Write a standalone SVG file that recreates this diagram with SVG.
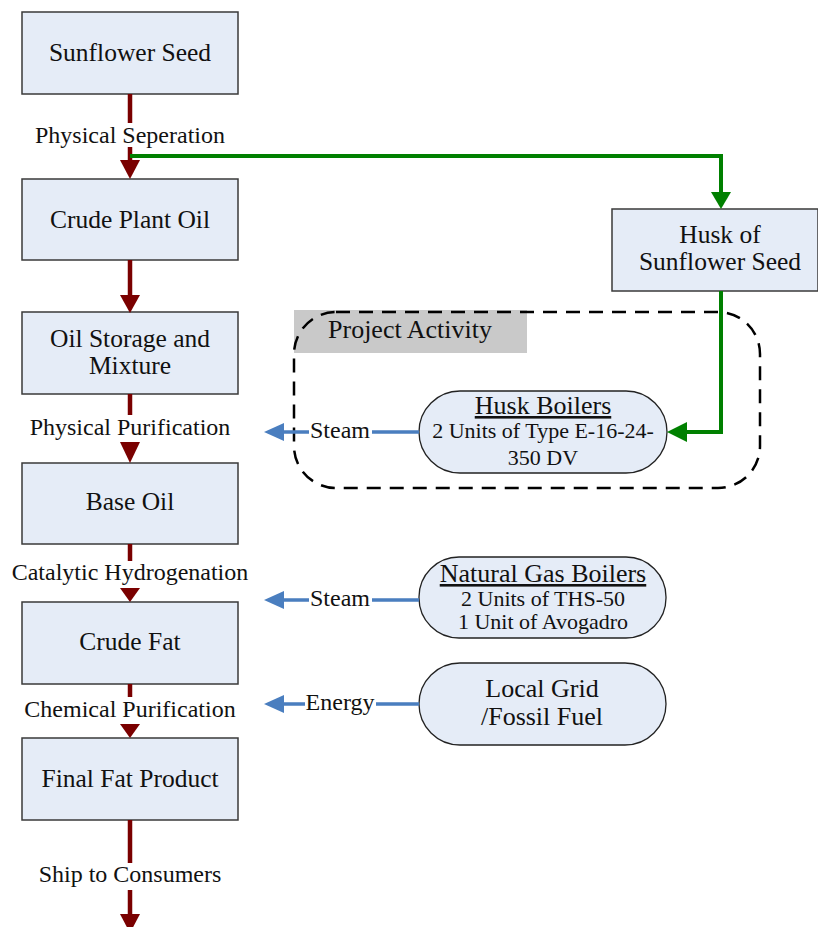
<svg xmlns="http://www.w3.org/2000/svg" width="818" height="927" viewBox="0 0 818 927">
<style>
.box{fill:#e5ecf7;stroke:#3a3a3a;stroke-width:1.5}
.pill{fill:#e5ecf7;stroke:#222;stroke-width:1.3}
.t{font-family:"Liberation Serif","Times New Roman",serif;fill:#111;text-anchor:middle}
.bt{font-size:25.5px}
.lb{font-size:24px}
.pt{font-size:26px;text-decoration:underline}
.pb{font-size:22px}
.red{stroke:#7a0000;stroke-width:4.5;fill:none}
.redh{fill:#7a0000}
.grn{stroke:#008000;stroke-width:4;fill:none}
.grnh{fill:#008000}
.blu{stroke:#4a7ebf;stroke-width:3.5;fill:none}
.bluh{fill:#4a7ebf}
</style>
<rect width="818" height="927" fill="#fff"/>

<g id="project-activity">
<rect x="294" y="310" width="233" height="43" fill="#c9c9c9"/>
<rect x="294" y="312" width="466" height="176" rx="42" ry="42" fill="none" stroke="#000" stroke-width="2.5" stroke-dasharray="14 9"/>
<text class="t" x="410" y="338" font-size="26px">Project Activity</text>
</g>

<g id="sunflower-seed"><rect class="box" x="22" y="12" width="216" height="82"/><text class="t bt" x="130" y="61">Sunflower Seed</text></g>
<g id="crude-plant-oil"><rect class="box" x="22" y="179" width="216" height="81"/><text class="t bt" x="130" y="228">Crude Plant Oil</text></g>
<g id="oil-storage"><rect class="box" x="22" y="312" width="216" height="82"/><text class="t bt" x="130" y="347">Oil Storage and</text><text class="t bt" x="130" y="374">Mixture</text></g>
<g id="base-oil"><rect class="box" x="22" y="463" width="216" height="81"/><text class="t bt" x="130" y="510">Base Oil</text></g>
<g id="crude-fat"><rect class="box" x="22" y="602" width="216" height="82"/><text class="t bt" x="130" y="650">Crude Fat</text></g>
<g id="final-fat"><rect class="box" x="22" y="738" width="216" height="82"/><text class="t bt" x="130" y="787">Final Fat Product</text></g>
<g id="husk"><rect class="box" x="612" y="209" width="206" height="82"/><text class="t bt" x="720" y="243">Husk of</text><text class="t bt" x="720" y="270">Sunflower Seed</text></g>

<g id="husk-boilers"><rect class="pill" x="419" y="391" width="248" height="82" rx="41" ry="41"/>
<text class="t pt" x="543" y="414">Husk Boilers</text>
<text class="t pb" x="543" y="438">2 Units of Type E-16-24-</text>
<text class="t pb" x="543" y="465">350 DV</text></g>
<g id="ng-boilers"><rect class="pill" x="419" y="557" width="247" height="81" rx="40" ry="40"/>
<text class="t pt" x="543" y="582">Natural Gas Boilers</text>
<text class="t pb" x="543" y="606">2 Units of THS-50</text>
<text class="t pb" x="543" y="629">1 Unit of Avogadro</text></g>
<g id="local-grid"><rect class="pill" x="419" y="663" width="247" height="82" rx="41" ry="41"/>
<text class="t" x="542" y="697" font-size="26px">Local Grid</text>
<text class="t" x="542" y="725" font-size="26px">/Fossil Fuel</text></g>

<g id="connectors">
<path class="red" d="M130 94V123M130 147V161"/><polygon class="redh" points="120,160 140,160 130,179"/>
<text class="t lb" x="130" y="143">Physical Seperation</text>
<path class="red" d="M130 260V296"/><polygon class="redh" points="120,295 140,295 130,313"/>
<path class="red" d="M130 394V415"/><polygon class="redh" points="120,442 140,442 130,463"/>
<text class="t lb" x="130" y="435">Physical Purification</text>
<path class="red" d="M130 544V561"/><polygon class="redh" points="120,588 140,588 130,602"/>
<text class="t lb" x="130" y="580">Catalytic Hydrogenation</text>
<path class="red" d="M130 684V697"/><polygon class="redh" points="120,724 140,724 130,738"/>
<text class="t lb" x="130" y="717">Chemical Purification</text>
<path class="red" d="M130 820V863M130 890V915"/><polygon class="redh" points="120,914 140,914 130,933"/>
<text class="t lb" x="130" y="882">Ship to Consumers</text>

<path class="grn" d="M130 156H721V193"/><polygon class="grnh" points="711,192 731,192 721,209"/>
<path class="grn" d="M721 291V432H686"/><polygon class="grnh" points="687,422 687,442 667,432"/>

<path class="blu" d="M419 432H372M309 432H283"/><polygon class="bluh" points="284,423 284,441 264,432"/>
<text class="t lb" x="340" y="438">Steam</text>
<path class="blu" d="M419 600H372M309 600H283"/><polygon class="bluh" points="284,591 284,609 264,600"/>
<text class="t lb" x="340" y="606">Steam</text>
<path class="blu" d="M419 704H376M305 704H283"/><polygon class="bluh" points="284,695 284,713 264,704"/>
<text class="t lb" x="340" y="710">Energy</text>
</g>
</svg>
